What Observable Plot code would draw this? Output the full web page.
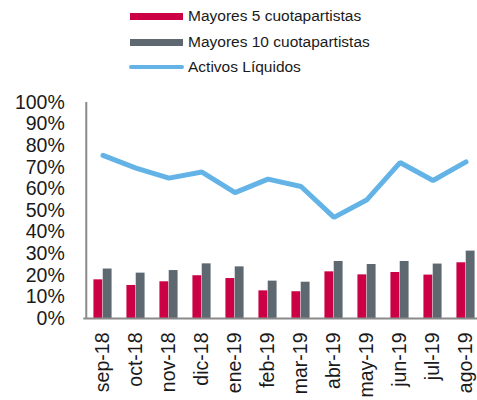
<!DOCTYPE html>
<html><head><meta charset="utf-8">
<script src="https://cdn.jsdelivr.net/npm/d3@7"></script>
<script src="https://cdn.jsdelivr.net/npm/@observablehq/plot@0.6"></script>
<style>
html,body{margin:0;padding:0;background:#fff;overflow:hidden;width:477px;height:400px}
#legend{position:relative;height:85px;font-family:"Liberation Sans",Arial,sans-serif;font-size:15.5px;color:#1a1a1a}
.row{position:absolute;left:130px;height:20px;display:flex;align-items:center;white-space:nowrap}
.sw{width:53px;height:7px;margin-right:5px}
.sw.line{height:4px;border-radius:2px;width:55px;margin-left:-1px;margin-right:4px}
#chart svg{overflow:hidden}
</style></head><body>
<div id="legend"></div>
<div id="chart"></div>
<script>
const months = ["sep-18","oct-18","nov-18","dic-18","ene-19","feb-19","mar-19","abr-19","may-19","jun-19","jul-19","ago-19"];
const top5 = [0.179,0.153,0.170,0.198,0.185,0.128,0.124,0.216,0.202,0.213,0.201,0.258];
const top10 = [0.229,0.210,0.222,0.253,0.239,0.173,0.168,0.264,0.250,0.264,0.252,0.312];
const liquid = [0.755,0.696,0.650,0.678,0.583,0.645,0.611,0.468,0.550,0.722,0.639,0.725];
const seriesNames = ["Mayores 5 cuotapartistas","Mayores 10 cuotapartistas","Activos Líquidos"];
const seriesColors = ["#CC0044","#5D6870","#63B3E6"];
const yTicks = [0,0.1,0.2,0.3,0.4,0.5,0.6,0.7,0.8,0.9,1];

// legend
const legend = document.getElementById("legend");
const rowTops = [6,32,57];
seriesNames.forEach((name, i) => {
  const row = document.createElement("div");
  row.className = "row";
  row.style.top = rowTops[i] + "px";
  const sw = document.createElement("div");
  sw.className = "sw" + (i === 2 ? " line" : "");
  sw.style.background = seriesColors[i];
  const t = document.createElement("span");
  t.textContent = name;
  row.appendChild(sw); row.appendChild(t);
  legend.appendChild(row);
});

const rows = months.map((m, i) => ({month: m, top5: top5[i], top10: top10[i], liquid: liquid[i]}));
const x0 = 83.3, x1 = 484.7;
const bw = (x1 - x0) / months.length;

const chart = Plot.plot({
  width: 477,
  height: 315,
  marginTop: 17,
  marginBottom: 82,
  marginLeft: 83.3,
  marginRight: 477 - x1,
  style: {fontFamily: "'Liberation Sans', Arial, sans-serif", color: "#1a1a1a", background: "#fff"},
  x: {domain: months, range: [x0, x1], padding: 0},
  y: {domain: [0, 1]},
  marks: [
    Plot.barY(rows, {x: "month", y: "top5", fill: seriesColors[0], insetLeft: bw/2 - 9.3, insetRight: bw/2}),
    Plot.barY(rows, {x: "month", y: "top10", fill: seriesColors[1], insetLeft: bw/2, insetRight: bw/2 - 9.3}),
    Plot.lineY(rows, {x: "month", y: "liquid", stroke: seriesColors[2], strokeWidth: 5, strokeLinejoin: "miter"}),
    Plot.ruleY([0], {stroke: "#8a8a8a", strokeWidth: 2}),
    Plot.ruleX([months[0]], {y1: 0, y2: 1, dx: -bw/2, stroke: "#8a8a8a", strokeWidth: 2}),
    Plot.axisY({ticks: yTicks, tickFormat: d3.format(".0%"), tickSize: 0, tickPadding: 19, fontSize: 19.5, label: null}),
    Plot.axisX({tickRotate: -90, tickSize: 0, tickPadding: 14, fontSize: 19.5, label: null})
  ]
});
document.getElementById("chart").appendChild(chart);
</script>
</body></html>
